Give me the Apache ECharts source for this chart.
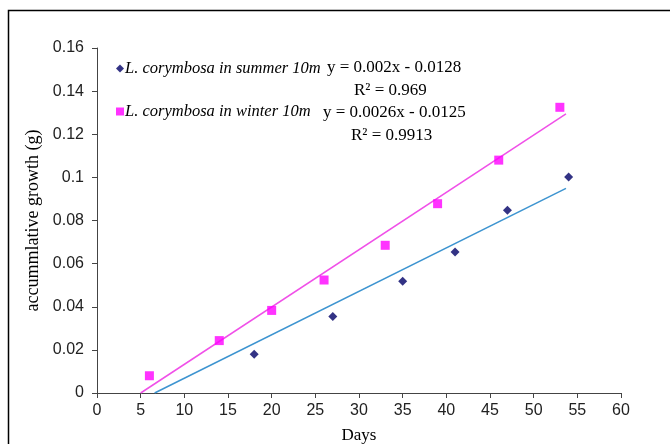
<!DOCTYPE html>
<html>
<head>
<meta charset="utf-8">
<script src="https://cdn.jsdelivr.net/npm/echarts@6/dist/echarts.min.js"></script>
<style>
  html, body { margin: 0; padding: 0; background: #fff; }
  #chart { width: 670px; height: 444px; }
</style>
</head>
<body>
<div id="chart"></div>
<script>
// measured points: [day, accumulative growth g]
var summerPts = [[18, 0.018], [27, 0.0355], [35, 0.0518], [41, 0.0654], [47, 0.0847], [54, 0.1002]];
var winterPts = [[6, 0.008], [14, 0.0243], [20, 0.0383], [26, 0.0524], [33, 0.0685], [39, 0.0878], [46, 0.108], [53, 0.1325]];
// trend lines as drawn (endpoints)
var summerTrend = [[6.6, 0], [53.7, 0.0949]];
var winterTrend = [[5.0, 0], [53.7, 0.1294]];
var summerName = 'L. corymbosa in summer 10m';
var winterName = 'L. corymbosa in winter 10m';
var summerEq = ['y = 0.002x - 0.0128', 'R² = 0.969'];
var winterEq = ['y = 0.0026x - 0.0125', 'R² = 0.9913'];

var chart = echarts.init(document.getElementById('chart'));
var serif = '"Liberation Serif", "DejaVu Serif", serif';
var sans = '"Liberation Sans", Arial, sans-serif';

var option = {
  animation: false,
  grid: { left: 97, right: 49, top: 48, bottom: 51, containLabel: false, outerBoundsMode: 'none' },
  legend: {
    orient: 'vertical',
    left: 111,
    top: 55,
    itemWidth: 8,
    itemHeight: 8,
    itemGap: 26,
    data: [
      { name: summerName, icon: 'diamond' },
      { name: winterName, icon: 'rect' }
    ],
    textStyle: { fontFamily: serif, fontStyle: 'italic', fontSize: 16.5, color: '#000', padding: [0, 0, 0, -4] }
  },
  xAxis: {
    type: 'value', min: 0, max: 60, interval: 5,
    name: 'Days', nameLocation: 'middle', nameGap: 34,
    nameTextStyle: { fontFamily: serif, fontSize: 17, color: '#000' },
    axisLine: { lineStyle: { color: '#444' } },
    axisTick: { show: true, inside: false, length: 5, lineStyle: { color: '#444' } },
    axisLabel: { fontFamily: sans, fontSize: 16, color: '#222', margin: 10 },
    splitLine: { show: false }
  },
  yAxis: {
    type: 'value', min: 0, max: 0.16, interval: 0.02,
    name: 'accummlative growth (g)', nameLocation: 'middle', nameGap: 52, nameRotate: 90,
    nameTextStyle: { fontFamily: serif, fontSize: 18, color: '#000' },
    axisLine: { show: true, lineStyle: { color: '#444' } },
    axisTick: { show: true, inside: false, length: 5, lineStyle: { color: '#444' } },
    axisLabel: { fontFamily: sans, fontSize: 16, color: '#222', margin: 13 },
    splitLine: { show: false }
  },
  series: [
    {
      name: summerName, type: 'scatter', symbol: 'diamond', symbolSize: 9,
      itemStyle: { color: '#000066' }, data: summerPts, z: 5
    },
    {
      name: winterName, type: 'scatter', symbol: 'rect', symbolSize: 9,
      itemStyle: { color: '#FF00FF' }, data: winterPts, z: 5
    },
    {
      name: 'summerTrend', type: 'line', data: summerTrend, showSymbol: false,
      lineStyle: { color: '#3D94D0', width: 1.5 }, z: 3
    },
    {
      name: 'winterTrend', type: 'line', data: winterTrend, showSymbol: false,
      lineStyle: { color: '#F050E8', width: 1.5 }, z: 3
    }
  ],
  graphic: [
    { type: 'rect', shape: { x: 8.5, y: 10.5, width: 700, height: 500 },
      style: { fill: 'none', stroke: '#000', lineWidth: 1.5 }, silent: true },
    { type: 'text', left: 327, top: 59, style: { text: summerEq[0], font: '17px ' + serif, fill: '#000' } },
    { type: 'text', left: 354, top: 82, style: { text: summerEq[1], font: '17px ' + serif, fill: '#000' } },
    { type: 'text', left: 323, top: 104, style: { text: winterEq[0], font: '17px ' + serif, fill: '#000' } },
    { type: 'text', left: 351, top: 127, style: { text: winterEq[1], font: '17px ' + serif, fill: '#000' } }
  ]
};
chart.setOption(option);
</script>
</body>
</html>
